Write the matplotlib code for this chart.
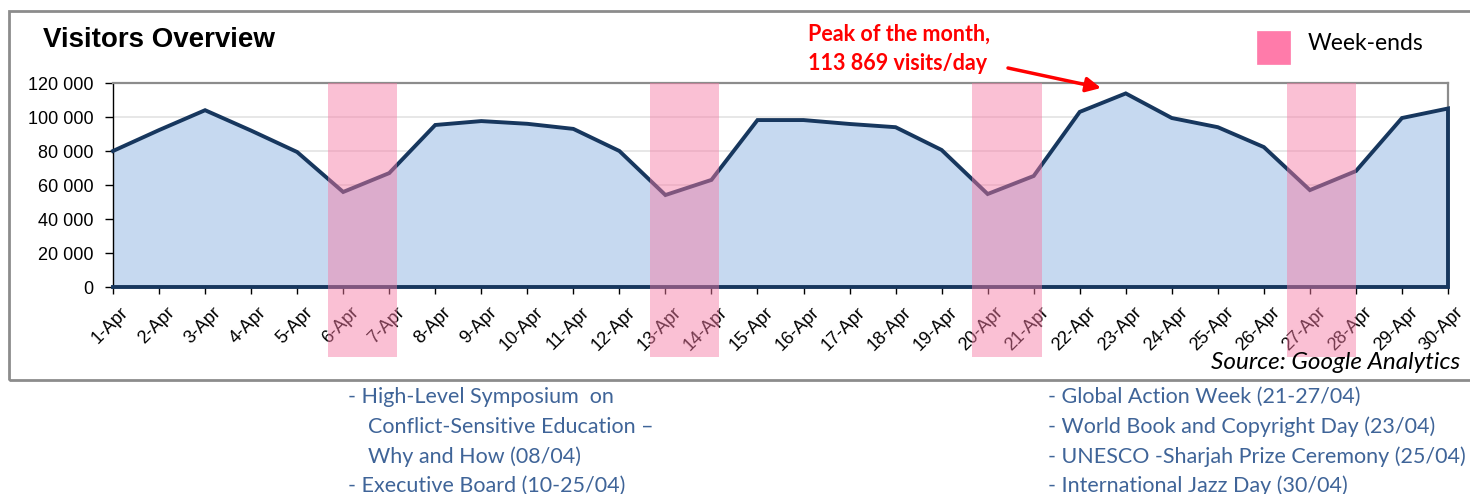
import matplotlib
matplotlib.use("Agg")
import matplotlib.pyplot as plt
from matplotlib.patches import Rectangle
from matplotlib.ticker import FuncFormatter
import matplotlib.transforms as mtransforms

# ---------------- data ----------------
days = [f"{d}-Apr" for d in range(1, 31)]
visits = [80000, 92300, 104000, 92000, 79400, 55900, 67000, 95300, 97600, 96000,
          93000, 80000, 54100, 63000, 98200, 98200, 95900, 94000, 80600, 54700,
          65300, 103000, 113869, 99400, 94000, 82300, 57000, 68200, 99400, 105000]
weekends = [(6, 7), (13, 14), (20, 21), (27, 28)]
y_ticks = [0, 20000, 40000, 60000, 80000, 100000, 120000]
events_left = ["- High-Level Symposium  on", "Conflict-Sensitive Education \u2013",
               "Why and How (08/04)", "- Executive Board (10-25/04)"]
events_right = ["- Global Action Week (21-27/04)", "- World Book and Copyright Day (23/04)",
                "- UNESCO -Sharjah Prize Ceremony (25/04)", "- International Jazz Day (30/04)"]

W, H = 1470, 494
fig = plt.figure(figsize=(W / 100, H / 100), dpi=100)

def fx(px):
    return px / W

def fy(py):
    return 1 - py / H

# outer frame
fig.patches.append(Rectangle((fx(9), fy(380)), fx(1480) - fx(9), fy(11) - fy(380),
                             transform=fig.transFigure, fill=False,
                             edgecolor="#8c8c8c", lw=2))

ax = fig.add_axes([fx(113), fy(287), fx(1448) - fx(113), fy(83) - fy(287)])
x = list(range(len(days)))
navy = "#17375e"
ax.fill_between(x, visits, 0, color="#c6d9f0", zorder=1, lw=0)
ax.plot(x + [x[-1], x[0]], visits + [0, 0], color=navy, lw=2.8, zorder=3,
        solid_joinstyle="miter", clip_on=False)

ax.set_xlim(x[0], x[-1])
ax.set_ylim(y_ticks[0], y_ticks[-1])
ax.set_yticks(y_ticks)
ax.yaxis.set_major_formatter(FuncFormatter(lambda v, p: f"{int(v):,}".replace(",", " ")))
ax.grid(axis="y", color="#e3e3e3", lw=1.2, zorder=0)
ax.set_axisbelow(True)
ax.set_xticks(x)
ax.set_xticklabels(days, rotation=45, ha="right", rotation_mode="anchor",
                   fontsize=13, family="Liberation Sans")
for t in ax.get_yticklabels():
    t.set_fontsize(13)
    t.set_family("Liberation Sans")
ax.tick_params(axis="x", direction="out", length=5, width=1, pad=7)
ax.tick_params(axis="y", direction="out", length=6, width=1, pad=8)
offset = mtransforms.ScaledTranslation(7 / 100, 0, fig.dpi_scale_trans)
for lab in ax.get_xticklabels():
    lab.set_transform(lab.get_transform() + offset)

for s in ["top", "right"]:
    ax.spines[s].set_color("#8c8c8c")
    ax.spines[s].set_linewidth(1.6)
ax.spines["left"].set_color("black")
ax.spines["left"].set_linewidth(1)
ax.spines["bottom"].set_visible(False)

# weekend bands
band_shift = [0, 0, 0, -0.16]
trans = mtransforms.blended_transform_factory(ax.transData, ax.transAxes)
for (a, b), sh in zip(weekends, band_shift):
    x0 = a - 1 - 0.33 + sh
    x1 = b - 1 + 0.17 + sh
    ax.add_patch(Rectangle((x0, -0.345), x1 - x0, 1.345, transform=trans,
                           facecolor="#f67aa4", alpha=0.47, lw=0, zorder=5,
                           clip_on=False))

# title
fig.text(fx(43), fy(40), "Visitors Overview", fontsize=20, fontweight="bold",
         family="Liberation Sans", va="center", ha="left")

# peak annotation
peak = max(visits)
fig.text(fx(808), fy(49), "Peak of the month,\n" + f"{peak:,}".replace(",", " ") + " visits/day",
         color="red", fontsize=15.5, fontweight="bold", family="Lato",
         va="center", ha="left", linespacing=1.5)
ax.annotate("", xy=(fx(1101), fy(88)), xytext=(fx(1008), fy(68)),
            xycoords="figure fraction", textcoords="figure fraction",
            arrowprops=dict(arrowstyle="-|>", color="red", lw=2.5,
                            mutation_scale=22, shrinkA=0, shrinkB=0))

# legend
fig.patches.append(Rectangle((fx(1257), fy(64)), fx(1290) - fx(1257), fy(31) - fy(64),
                             transform=fig.transFigure, facecolor="#ff7baa",
                             edgecolor="#ff7baa", lw=0.5))
fig.text(fx(1308), fy(44), "Week-ends", fontsize=16.5, family="Lato",
         va="center", ha="left")

# source
fig.text(fx(1460), fy(362), "Source: Google Analytics", fontsize=17.5, family="Lato",
         style="italic", va="center", ha="right")

# events
ev_color = "#3f6498"
ys = [397, 427, 457, 486]
for line, yy in zip(events_left, ys):
    xx = 348 if line.startswith("-") else 368
    fig.text(fx(xx), fy(yy), line, fontsize=15.5, family="Lato", color=ev_color,
             va="center", ha="left")
for line, yy in zip(events_right, ys):
    fig.text(fx(1048), fy(yy), line, fontsize=15.5, family="Lato", color=ev_color,
             va="center", ha="left")

fig.savefig("out.png", dpi=100)
